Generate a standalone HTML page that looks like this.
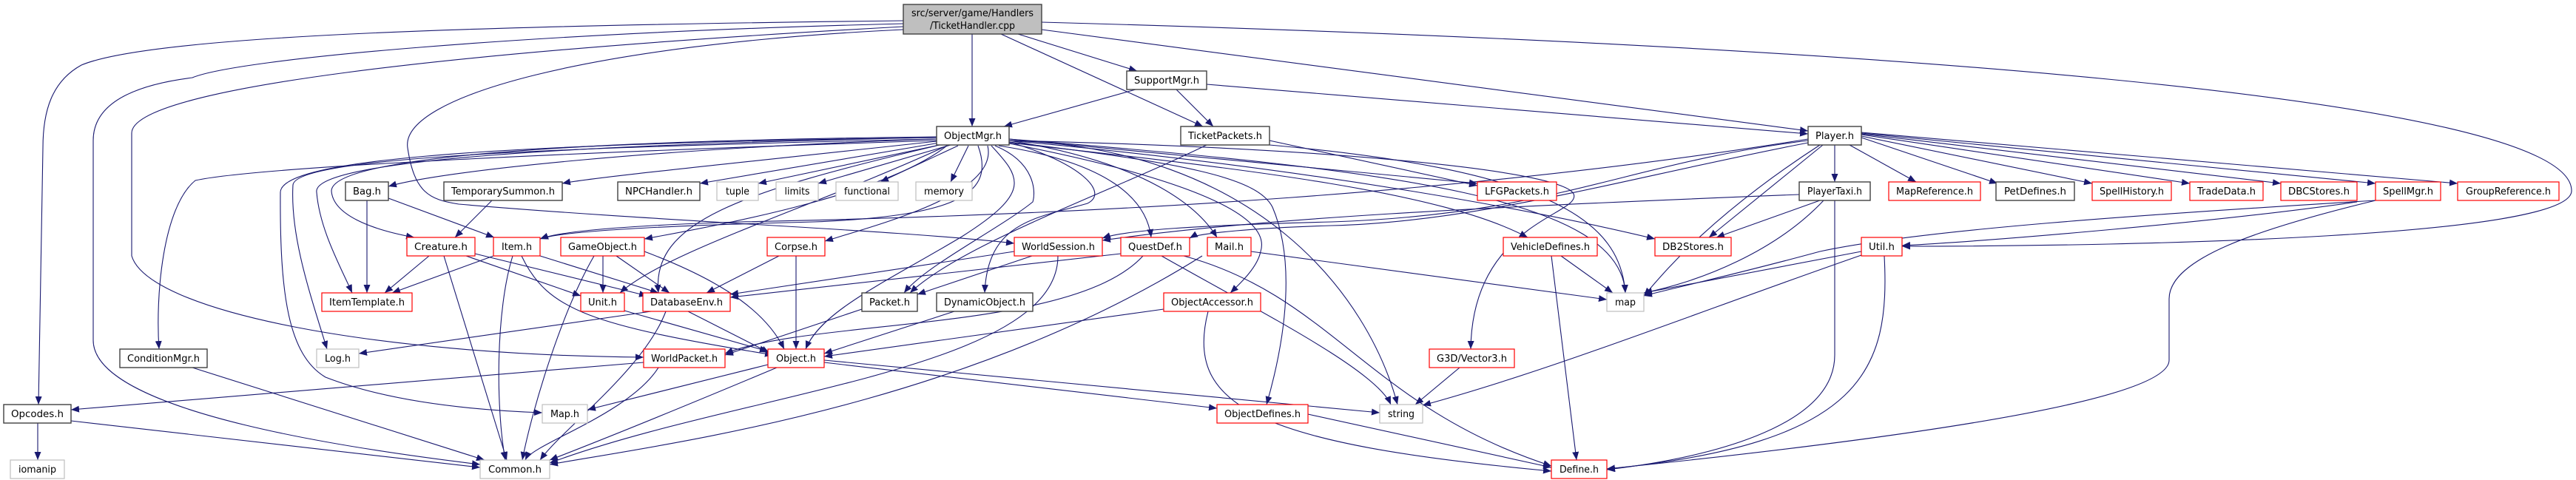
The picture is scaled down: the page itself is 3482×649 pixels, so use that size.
<!DOCTYPE html>
<html><head><meta charset="utf-8"><style>
html,body{margin:0;padding:0;background:#fff}
svg{display:block}
text{font-family:"DejaVu Sans","Liberation Sans",sans-serif;font-size:13px;fill:#000}
.e{fill:none;stroke:#191970;stroke-width:1.1}
.b{fill:#fff;stroke:#404040;stroke-width:1.4}
.r{fill:#fff;stroke:#ff0000;stroke-width:1.2}
.g{fill:#fff;stroke:#bfbfbf;stroke-width:1.2}
</style></head><body>
<svg width="3482" height="649" viewBox="0 0 3482 649" xmlns="http://www.w3.org/2000/svg">
<defs><marker id="a" markerUnits="userSpaceOnUse" markerWidth="12" markerHeight="10" refX="11" refY="4.5" orient="auto"><path d="M0,0 L11,4.5 L0,9 z" fill="#191970"/></marker></defs>
<g class="e" marker-end="url(#a)">
<path d="M1314 46 L1314 171"/>
<path d="M1376 46 L1537 96"/>
<path d="M1353 46 L1626 171"/>
<path d="M1408 40 L2444 177"/>
<path d="M1408 30 C 2500 60, 3476 130, 3476 258 C 3476 320, 2900 333, 2571 333"/>
<path d="M1221 28 C 600 35, 200 50, 110 88 C 70 110, 58 150, 58 200 L 52 547"/>
<path d="M1221 32 C 700 45, 320 80, 260 105 C 180 115, 126 140, 126 190 L126 460 C 126 560, 500 610, 649 628"/>
<path d="M1221 36 C 600 70, 178 120, 178 180 L178 346 C 200 420, 500 480, 870 483"/>
<path d="M1221 40 C 800 60, 540 130, 551 200 C 560 260, 580 270, 620 276 C 900 300, 1200 310, 1371 329"/>
<path d="M1535 121 L1357 171"/>
<path d="M1590 121 L1640 171"/>
<path d="M1631 114 L2444 181"/>
<path d="M1631 196 C 1500 260, 1300 330, 1230 396"/>
<path d="M1716 190 L1997 251"/>
<path d="M1716 196 C 2100 230, 2190 300, 2197 396"/>
<path d="M1266 188 C 900 200, 600 230, 525 252"/>
<path d="M1266 191 C 1000 220, 800 240, 760 248"/>
<path d="M1270 193 L946 248"/>
<path d="M1275 195 L1025 248"/>
<path d="M1285 196 L1106 248"/>
<path d="M1295 197 L1190 246"/>
<path d="M1309 197 L1285 246"/>
<path d="M1266 185 C 800 190, 450 210, 448 258 C 450 290, 500 310, 560 321"/>
<path d="M1322 197 C 1345 260, 1300 292, 1100 300 C 900 305, 760 312, 730 323"/>
<path d="M1280 197 C 1200 260, 1000 300, 871 323"/>
<path d="M1266 186 C 800 195, 420 215, 428 260 C 432 310, 460 360, 476 396"/>
<path d="M1335 197 C 1350 260, 1200 300, 1115 326"/>
<path d="M1350 197 C 1500 220, 1550 270, 1556 321"/>
<path d="M1364 190 C 1550 220, 1620 280, 1645 321"/>
<path d="M1345 197 C 1400 220, 1400 260, 1396 273 C 1350 310, 1250 360, 1222 396"/>
<path d="M1364 192 C 1460 220, 1500 260, 1470 275 C 1400 295, 1335 300, 1331 396"/>
<path d="M1364 194 C 1600 240, 1720 290, 1704 340 C 1700 360, 1680 380, 1663 396"/>
<path d="M1364 192 C 1600 220, 1700 240, 1720 280 C 1750 350, 1740 450, 1712 547"/>
<path d="M1340 197 C 1380 240, 1395 260, 1300 320 C 1200 380, 1110 420, 1089 472"/>
<path d="M1266 197 C 1000 260, 880 300, 890 396"/>
<path d="M1280 197 C 1100 280, 900 340, 838 396"/>
<path d="M1266 188 C 700 200, 400 215, 396 250 C 392 320, 420 400, 442 472"/>
<path d="M1266 186 C 600 195, 380 220, 379 260 C 378 400, 390 480, 440 510 C 530 545, 650 555, 733 558"/>
<path d="M1266 190 C 800 205, 350 225, 264 244 C 220 280, 210 400, 215 472"/>
<path d="M1364 190 C 1700 200, 1850 400, 1889 547"/>
<path d="M1364 188 C 1900 230, 2190 270, 2197 396"/>
<path d="M1364 193 C 1700 230, 1950 260, 2065 321"/>
<path d="M1364 190 C 1800 230, 2100 290, 2237 323"/>
<path d="M1364 190 C 1800 200, 2110 230, 2127 262 C 2140 290, 1990 300, 1988 472"/>
<path d="M1364 188 L1997 248"/>
<path d="M2480 196 L2480 246"/>
<path d="M2500 196 L2590 246"/>
<path d="M2516 186 L2700 248"/>
<path d="M2516 184 L2828 248"/>
<path d="M2516 182 L2960 248"/>
<path d="M2516 181 L3083 248"/>
<path d="M2516 180 L3211 248"/>
<path d="M2516 179 L3322 248"/>
<path d="M2464 196 L2310 321"/>
<path d="M2444 190 C 2200 220, 2100 290, 1800 300 C 1600 305, 1520 312, 1490 322"/>
<path d="M2444 193 C 2200 240, 2000 300, 1800 305 C 1700 308, 1620 315, 1608 322"/>
<path d="M2460 196 C 2300 300, 2240 380, 2222 400"/>
<path d="M2444 188 C 2000 260, 1500 290, 1000 300 C 850 305, 760 312, 730 323"/>
<path d="M2480 271 L2480 480 C 2480 580, 2300 620, 2172 635"/>
<path d="M2460 271 L2320 321"/>
<path d="M2465 271 C 2400 340, 2300 380, 2222 396"/>
<path d="M2432 263 C 2000 280, 1700 295, 1490 325"/>
<path d="M3211 271 C 2900 290, 2600 310, 2460 340 C 2350 370, 2260 390, 2222 400"/>
<path d="M3186 273 C 3000 300, 2700 325, 2571 332"/>
<path d="M3211 271 C 3050 310, 2932 350, 2932 404 L2932 487 C 2932 540, 2600 590, 2172 634"/>
<path d="M2516 340 L2222 396"/>
<path d="M2516 345 C 2300 420, 2100 500, 1923 548"/>
<path d="M2547 346 C 2555 500, 2520 600, 2172 634"/>
<path d="M2110 346 L2180 396"/>
<path d="M2097 346 L2131 622"/>
<path d="M1973 497 L1913 547"/>
<path d="M1570 346 C 1700 420, 1860 500, 1880 547"/>
<path d="M1600 346 C 1800 400, 1850 550, 2097 630"/>
<path d="M1515 343 L987 402"/>
<path d="M1545 346 C 1450 450, 1100 430, 980 478"/>
<path d="M1691 340 L2172 405"/>
<path d="M1625 346 C 1300 550, 900 600, 743 628"/>
<path d="M1371 340 L987 398"/>
<path d="M1395 346 L1240 398"/>
<path d="M1430 346 C 1430 500, 1000 530, 743 626"/>
<path d="M1053 346 L955 396"/>
<path d="M1076 346 L1076 472"/>
<path d="M1165 418 L980 480"/>
<path d="M1290 421 L1114 478"/>
<path d="M1573 418 L1114 482"/>
<path d="M1633 421 C 1600 550, 1700 600, 2097 637"/>
<path d="M1038 493 L794 554"/>
<path d="M1050 497 C 900 560, 800 600, 743 622"/>
<path d="M1114 490 L1645 552"/>
<path d="M1114 487 L1865 558"/>
<path d="M1768 560 L2097 632"/>
<path d="M870 490 L96 554"/>
<path d="M890 497 C 850 560, 720 600, 710 622"/>
<path d="M51 572 L51 622"/>
<path d="M96 569 L649 632"/>
<path d="M260 497 L655 622"/>
<path d="M880 421 L485 478"/>
<path d="M930 421 L1040 477"/>
<path d="M900 421 C 870 500, 760 580, 730 622"/>
<path d="M844 420 L1038 475"/>
<path d="M815 346 L815 396"/>
<path d="M833 346 L905 396"/>
<path d="M871 340 C 950 370, 1030 410, 1060 472"/>
<path d="M803 346 C 760 420, 720 550, 706 622"/>
<path d="M667 346 L530 396"/>
<path d="M730 346 L890 396"/>
<path d="M693 346 C 670 420, 670 550, 683 622"/>
<path d="M705 346 C 740 420, 800 440, 1045 480"/>
<path d="M580 346 L520 396"/>
<path d="M630 346 L785 400"/>
<path d="M642 343 L875 400"/>
<path d="M600 346 L685 622"/>
<path d="M496 271 L496 396"/>
<path d="M525 268 L668 321"/>
<path d="M665 271 L615 321"/>
</g>
<!-- root -->
<rect x="1221" y="6" width="187" height="40" fill="#bfbfbf" stroke="#404040" stroke-width="1.4"/>
<text x="1314.5" y="22" text-anchor="middle" textLength="165" lengthAdjust="spacingAndGlyphs">src/server/game/Handlers</text>
<text x="1314.5" y="39" text-anchor="middle" textLength="115" lengthAdjust="spacingAndGlyphs">/TicketHandler.cpp</text>
<g>
<rect class="b" x="1523" y="96" width="108" height="25"/><text x="1577" y="113" text-anchor="middle" textLength="88" lengthAdjust="spacingAndGlyphs">SupportMgr.h</text>
<rect class="b" x="1266" y="171" width="98" height="25"/><text x="1315" y="188" text-anchor="middle" textLength="78" lengthAdjust="spacingAndGlyphs">ObjectMgr.h</text>
<rect class="b" x="1596" y="171" width="120" height="25"/><text x="1656" y="188" text-anchor="middle" textLength="100" lengthAdjust="spacingAndGlyphs">TicketPackets.h</text>
<rect class="b" x="2444" y="171" width="72" height="25"/><text x="2480" y="188" text-anchor="middle" textLength="52" lengthAdjust="spacingAndGlyphs">Player.h</text>

<rect class="b" x="467" y="246" width="58" height="25"/><text x="496" y="263" text-anchor="middle" textLength="38" lengthAdjust="spacingAndGlyphs">Bag.h</text>
<rect class="b" x="600" y="246" width="160" height="25"/><text x="680" y="263" text-anchor="middle" textLength="140" lengthAdjust="spacingAndGlyphs">TemporarySummon.h</text>
<rect class="b" x="835" y="246" width="111" height="25"/><text x="890.5" y="263" text-anchor="middle" textLength="91" lengthAdjust="spacingAndGlyphs">NPCHandler.h</text>
<rect class="g" x="969" y="246" width="56" height="25"/><text x="997" y="263" text-anchor="middle" textLength="32" lengthAdjust="spacingAndGlyphs">tuple</text>
<rect class="g" x="1049" y="246" width="57" height="25"/><text x="1077.5" y="263" text-anchor="middle" textLength="34" lengthAdjust="spacingAndGlyphs">limits</text>
<rect class="g" x="1130" y="246" width="84" height="25"/><text x="1172" y="263" text-anchor="middle" textLength="62" lengthAdjust="spacingAndGlyphs">functional</text>
<rect class="g" x="1238" y="246" width="76" height="25"/><text x="1276" y="263" text-anchor="middle" textLength="54" lengthAdjust="spacingAndGlyphs">memory</text>
<rect class="r" x="1997" y="246" width="107" height="25"/><text x="2050.5" y="263" text-anchor="middle" textLength="87" lengthAdjust="spacingAndGlyphs">LFGPackets.h</text>
<rect class="b" x="2432" y="246" width="96" height="25"/><text x="2480" y="263" text-anchor="middle" textLength="74" lengthAdjust="spacingAndGlyphs">PlayerTaxi.h</text>
<rect class="r" x="2553" y="246" width="124" height="25"/><text x="2615" y="263" text-anchor="middle" textLength="104" lengthAdjust="spacingAndGlyphs">MapReference.h</text>
<rect class="b" x="2698" y="246" width="106" height="25"/><text x="2751" y="263" text-anchor="middle" textLength="84" lengthAdjust="spacingAndGlyphs">PetDefines.h</text>
<rect class="r" x="2828" y="246" width="107" height="25"/><text x="2881.5" y="263" text-anchor="middle" textLength="87" lengthAdjust="spacingAndGlyphs">SpellHistory.h</text>
<rect class="r" x="2960" y="246" width="99" height="25"/><text x="3009.5" y="263" text-anchor="middle" textLength="79" lengthAdjust="spacingAndGlyphs">TradeData.h</text>
<rect class="r" x="3083" y="246" width="103" height="25"/><text x="3134.5" y="263" text-anchor="middle" textLength="83" lengthAdjust="spacingAndGlyphs">DBCStores.h</text>
<rect class="r" x="3211" y="246" width="88" height="25"/><text x="3255" y="263" text-anchor="middle" textLength="68" lengthAdjust="spacingAndGlyphs">SpellMgr.h</text>
<rect class="r" x="3322" y="246" width="137" height="25"/><text x="3390.5" y="263" text-anchor="middle" textLength="115" lengthAdjust="spacingAndGlyphs">GroupReference.h</text>

<rect class="r" x="550" y="321" width="92" height="25"/><text x="596" y="338" text-anchor="middle" textLength="72" lengthAdjust="spacingAndGlyphs">Creature.h</text>
<rect class="r" x="667" y="321" width="63" height="25"/><text x="698.5" y="338" text-anchor="middle" textLength="41" lengthAdjust="spacingAndGlyphs">Item.h</text>
<rect class="r" x="758" y="321" width="113" height="25"/><text x="814.5" y="338" text-anchor="middle" textLength="93" lengthAdjust="spacingAndGlyphs">GameObject.h</text>
<rect class="r" x="1037" y="321" width="78" height="25"/><text x="1076" y="338" text-anchor="middle" textLength="58" lengthAdjust="spacingAndGlyphs">Corpse.h</text>
<rect class="r" x="1371" y="321" width="119" height="25"/><text x="1430.5" y="338" text-anchor="middle" textLength="99" lengthAdjust="spacingAndGlyphs">WorldSession.h</text>
<rect class="r" x="1515" y="321" width="93" height="25"/><text x="1561.5" y="338" text-anchor="middle" textLength="73" lengthAdjust="spacingAndGlyphs">QuestDef.h</text>
<rect class="r" x="1632" y="321" width="59" height="25"/><text x="1661.5" y="338" text-anchor="middle" textLength="39" lengthAdjust="spacingAndGlyphs">Mail.h</text>
<rect class="r" x="2032" y="321" width="127" height="25"/><text x="2095.5" y="338" text-anchor="middle" textLength="107" lengthAdjust="spacingAndGlyphs">VehicleDefines.h</text>
<rect class="r" x="2237" y="321" width="103" height="25"/><text x="2288.5" y="338" text-anchor="middle" textLength="83" lengthAdjust="spacingAndGlyphs">DB2Stores.h</text>
<rect class="r" x="2516" y="321" width="55" height="25"/><text x="2543.5" y="338" text-anchor="middle" textLength="35" lengthAdjust="spacingAndGlyphs">Util.h</text>

<rect class="r" x="435" y="396" width="122" height="25"/><text x="496" y="413" text-anchor="middle" textLength="102" lengthAdjust="spacingAndGlyphs">ItemTemplate.h</text>
<rect class="r" x="785" y="396" width="59" height="25"/><text x="814.5" y="413" text-anchor="middle" textLength="39" lengthAdjust="spacingAndGlyphs">Unit.h</text>
<rect class="r" x="869" y="396" width="118" height="25"/><text x="928" y="413" text-anchor="middle" textLength="98" lengthAdjust="spacingAndGlyphs">DatabaseEnv.h</text>
<rect class="b" x="1165" y="396" width="75" height="25"/><text x="1202.5" y="413" text-anchor="middle" textLength="55" lengthAdjust="spacingAndGlyphs">Packet.h</text>
<rect class="b" x="1266" y="396" width="130" height="25"/><text x="1331" y="413" text-anchor="middle" textLength="110" lengthAdjust="spacingAndGlyphs">DynamicObject.h</text>
<rect class="r" x="1573" y="396" width="131" height="25"/><text x="1638.5" y="413" text-anchor="middle" textLength="111" lengthAdjust="spacingAndGlyphs">ObjectAccessor.h</text>
<rect class="g" x="2172" y="396" width="50" height="25"/><text x="2197" y="413" text-anchor="middle" textLength="28" lengthAdjust="spacingAndGlyphs">map</text>

<rect class="b" x="162" y="472" width="118" height="25"/><text x="221" y="489" text-anchor="middle" textLength="98" lengthAdjust="spacingAndGlyphs">ConditionMgr.h</text>
<rect class="g" x="428" y="472" width="57" height="25"/><text x="456.5" y="489" text-anchor="middle" textLength="35" lengthAdjust="spacingAndGlyphs">Log.h</text>
<rect class="r" x="870" y="472" width="110" height="25"/><text x="925" y="489" text-anchor="middle" textLength="90" lengthAdjust="spacingAndGlyphs">WorldPacket.h</text>
<rect class="r" x="1038" y="472" width="76" height="25"/><text x="1076" y="489" text-anchor="middle" textLength="54" lengthAdjust="spacingAndGlyphs">Object.h</text>
<rect class="r" x="1932" y="472" width="115" height="25"/><text x="1989.5" y="489" text-anchor="middle" textLength="95" lengthAdjust="spacingAndGlyphs">G3D/Vector3.h</text>

<rect class="b" x="5" y="547" width="91" height="25"/><text x="50.5" y="564" text-anchor="middle" textLength="71" lengthAdjust="spacingAndGlyphs">Opcodes.h</text>
<rect class="g" x="733" y="547" width="61" height="25"/><text x="763.5" y="564" text-anchor="middle" textLength="39" lengthAdjust="spacingAndGlyphs">Map.h</text>
<rect class="r" x="1645" y="547" width="123" height="25"/><text x="1706.5" y="564" text-anchor="middle" textLength="103" lengthAdjust="spacingAndGlyphs">ObjectDefines.h</text>
<rect class="g" x="1865" y="547" width="58" height="25"/><text x="1894" y="564" text-anchor="middle" textLength="36" lengthAdjust="spacingAndGlyphs">string</text>

<rect class="g" x="14" y="622" width="73" height="25"/><text x="50.5" y="639" text-anchor="middle" textLength="51" lengthAdjust="spacingAndGlyphs">iomanip</text>
<rect class="g" x="649" y="622" width="94" height="25"/><text x="696" y="639" text-anchor="middle" textLength="72" lengthAdjust="spacingAndGlyphs">Common.h</text>
<rect class="r" x="2097" y="622" width="75" height="25"/><text x="2134.5" y="639" text-anchor="middle" textLength="53" lengthAdjust="spacingAndGlyphs">Define.h</text>
</g>
</svg>
</body></html>
